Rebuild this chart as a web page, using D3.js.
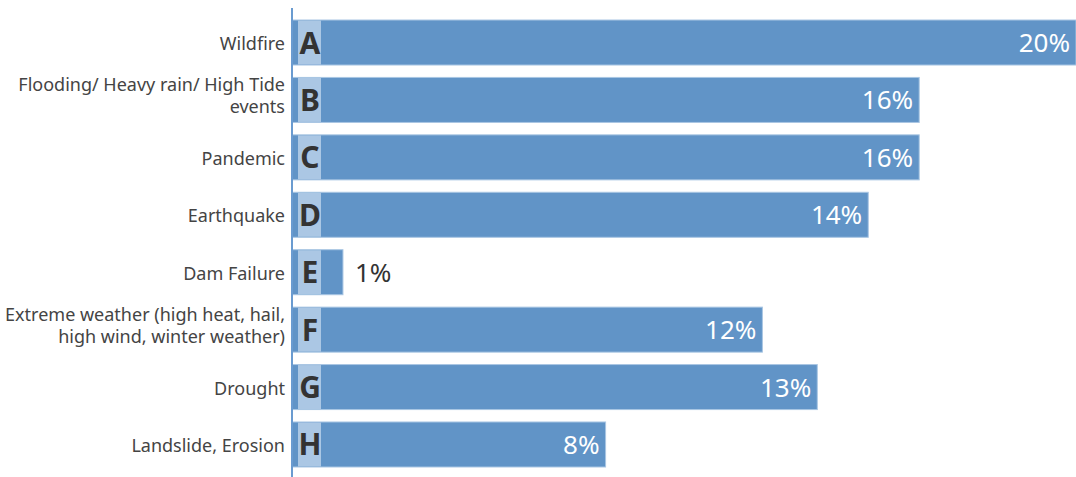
<!DOCTYPE html>
<html><head><meta charset="utf-8">
<script src="https://cdn.jsdelivr.net/npm/d3@7"></script>
<style>body{margin:0;background:#fff}svg{display:block}</style>
</head><body>
<svg id="c" width="1076" height="477"></svg>
<script>
const categories = [["Wildfire"],["Flooding/ Heavy rain/ High Tide","events"],["Pandemic"],["Earthquake"],["Dam Failure"],["Extreme weather (high heat, hail,","high wind, winter weather)"],["Drought"],["Landslide, Erosion"]];
const letters = ["A","B","C","D","E","F","G","H"];
const values = [20, 16, 16, 14.7, 1.3, 12, 13.4, 8];
const valueLabels = ["20%","16%","16%","14%","1%","12%","13%","8%"];

const svg = d3.select("#c");
const x0 = 292;
const x = d3.scaleLinear().domain([0,20]).range([x0,1076]);
const y = d3.scaleBand().domain(letters).range([20,467]).paddingInner(0.216).paddingOuter(0);
const font = "'Source Sans Pro','Noto Sans','Open Sans',sans-serif";

const g = svg.append("g");
const rows = g.selectAll("g.row").data(letters).enter().append("g");
rows.append("rect").attr("x", x0).attr("y", d=>y(d)).attr("width", (d,i)=>x(values[i])-x0)
  .attr("height", y.bandwidth()).attr("fill","#6194c7").attr("stroke","#a9c6e3").attr("stroke-width",1);
rows.append("rect").attr("x", 298).attr("y", d=>y(d)+0.5).attr("width", 23)
  .attr("height", y.bandwidth()-1).attr("fill","#abc7e4");
rows.append("text").attr("x", 310).attr("y", d=>y(d)+y.bandwidth()/2+11)
  .attr("text-anchor","middle").attr("font-family",font).attr("font-weight","bold")
  .attr("font-size",30).attr("fill","#333").text(d=>d);
rows.append("text").attr("font-family",font).attr("font-size",26)
  .attr("x",(d,i)=> values[i] < 3 ? x(values[i])+12 : x(values[i])-6)
  .attr("text-anchor",(d,i)=> values[i] < 3 ? "start" : "end")
  .attr("fill",(d,i)=> values[i] < 3 ? "#333" : "#fff")
  .attr("y", d=>y(d)+y.bandwidth()/2+9.5).text((d,i)=>valueLabels[i]);
rows.each(function(d,i){
  const lines = categories[i];
  const t = d3.select(this).append("text").attr("font-family",font).attr("font-size",18)
    .attr("fill","#444").attr("text-anchor","end");
  const cy = y(d)+y.bandwidth()/2;
  lines.forEach((l,j)=>{
    const yy = lines.length === 1 ? cy + 7.5 : cy + 2 + (j-(lines.length-1)/2)*22;
    t.append("tspan").attr("x",285).attr("y", yy).text(l);
  });
});
svg.append("line").attr("x1",x0).attr("x2",x0).attr("y1",8).attr("y2",477)
  .attr("stroke","#6a9bd0").attr("stroke-width",2);
</script>
</body></html>
